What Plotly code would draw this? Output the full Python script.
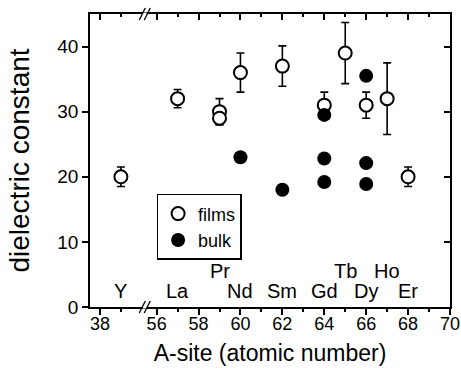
import plotly.graph_objects as go

# ---------------- data ----------------
film_z = [39, 57, 59, 59, 60, 62, 64, 65, 66, 67, 68]
film_k = [20, 32, 30, 29, 36, 37, 31, 39, 31, 32, 20]
film_err = [1.5, 1.4, 2.0, 1.0, 3.0, 3.1, 2.0, 4.7, 2.0, 5.5, 1.5]

bulk_z = [60, 62, 64, 64, 64, 66, 66, 66]
bulk_k = [23.0, 18.0, 29.5, 22.8, 19.2, 35.5, 22.1, 18.9]

elements = ["Y", "La", "Pr", "Nd", "Sm", "Gd", "Tb", "Dy", "Ho", "Er"]
element_z = [39, 57, 59, 60, 62, 64, 65, 66, 67, 68]
upper_row = ["Pr", "Tb", "Ho"]

major_ticks = [38, 56, 58, 60, 62, 64, 66, 68, 70]
minor_ticks = [39, 57, 59, 61, 63, 65, 67, 69]
y_ticks = [0, 10, 20, 30, 40]

# ------------- broken axis transform -------------
SHIFT = 15.295          # gap removed between 40 and 56
def t(z):
    return z if z < 50 else z - SHIFT

X_RANGE = [37.525, 70 - SHIFT + 1e-6]
Y_RANGE = [0, 45]
BREAK_X = 40.14

FONT = "Liberation Sans, Arial, sans-serif"

fig = go.Figure()

fig.add_trace(go.Scatter(
    x=[t(z) for z in film_z], y=film_k, mode="markers", name="films",
    marker=dict(symbol="circle", size=13, color="white",
                line=dict(color="black", width=2)),
    error_y=dict(type="data", array=film_err, visible=True,
                 color="black", thickness=1.6, width=4),
))
fig.add_trace(go.Scatter(
    x=[t(z) for z in bulk_z], y=bulk_k, mode="markers", name="bulk",
    marker=dict(symbol="circle", size=14, color="black",
                line=dict(color="black", width=0)),
))
# invisible helper trace to anchor the mirrored top/right axes
fig.add_trace(go.Scatter(x=[None], y=[None], xaxis="x2", yaxis="y2",
                         showlegend=False, hoverinfo="skip"))

# element labels
for el, z in zip(elements, element_z):
    fig.add_annotation(x=t(z), y=5.6 if el in upper_row else 2.4,
                       text=el, showarrow=False, xanchor="center",
                       yanchor="middle",
                       font=dict(size=20, color="black", family=FONT))

# axis-break marks (bottom and top)
PLOT_W = 461 - 90 - 11
px_x = (X_RANGE[1] - X_RANGE[0]) / PLOT_W
px_y = 1 / 293.0
shapes = []
for yb in (0.0, 1.0):
    shapes.append(dict(type="line", xref="x", yref="paper",
                       x0=BREAK_X - 2 * px_x, x1=BREAK_X + 2 * px_x,
                       y0=yb, y1=yb, line=dict(color="white", width=3),
                       layer="above"))
    for off in (-2.5, 2.5):
        xc = BREAK_X + off * px_x
        shapes.append(dict(type="line", xref="x", yref="paper",
                           x0=xc - 3 * px_x, x1=xc + 3 * px_x,
                           y0=yb - 6 * px_y, y1=yb + 6 * px_y,
                           line=dict(color="black", width=1.3),
                           layer="above"))

tickvals = [t(v) for v in major_ticks]
ticktext = [str(v) for v in major_ticks]
minor_vals = [t(v) for v in minor_ticks]

fig.update_layout(
    width=461, height=368,
    margin=dict(l=90, r=11, t=14, b=61, autoexpand=False),
    paper_bgcolor="white", plot_bgcolor="white",
    font=dict(family=FONT, color="black"),
    showlegend=True,
    legend=dict(x=0.185, y=0.386, xanchor="left", yanchor="top",
                bordercolor="black", borderwidth=1.5, bgcolor="white",
                font=dict(size=18, family=FONT), itemwidth=30,
                tracegroupgap=0),
    shapes=shapes,
    xaxis=dict(range=X_RANGE, showline=True, linecolor="black", linewidth=1.5,
               automargin=False, ticklabeloverflow="allow",
               ticklabelstandoff=-6,
               tickmode="array", tickvals=tickvals, ticktext=ticktext,
               ticks="outside", ticklen=6, tickwidth=1.5, tickcolor="black",
               minor=dict(tickmode="array", tickvals=minor_vals, ticks="outside",
                          ticklen=3, tickwidth=1.5, tickcolor="black"),
               showgrid=False, zeroline=False,
               tickfont=dict(size=18, family=FONT),
               title=dict(text="A-site (atomic number)", standoff=12,
                          font=dict(size=23, family=FONT))),
    xaxis2=dict(range=X_RANGE, overlaying="x", side="top", anchor="y",
                automargin=False,
                showline=True, linecolor="black", linewidth=1.5,
                tickmode="array", tickvals=tickvals, showticklabels=False,
                ticks="inside", ticklen=6, tickwidth=1.5, tickcolor="black",
                minor=dict(tickmode="array", tickvals=minor_vals, ticks="inside",
                           ticklen=3, tickwidth=1.5, tickcolor="black"),
                showgrid=False, zeroline=False),
    yaxis=dict(range=Y_RANGE, showline=True, linecolor="black", linewidth=1.5,
               automargin=False,
               tickmode="array", tickvals=y_ticks,
               ticks="outside", ticklen=6, tickwidth=1.5, tickcolor="black",
               showgrid=False, zeroline=False,
               tickfont=dict(size=19, family=FONT),
               title=dict(text="dielectric constant", standoff=20,
                          font=dict(size=28, family=FONT))),
    yaxis2=dict(range=Y_RANGE, overlaying="y", side="right", anchor="x",
                automargin=False,
                showline=True, linecolor="black", linewidth=1.5,
                tickmode="array", tickvals=y_ticks, showticklabels=False,
                ticks="inside", ticklen=6, tickwidth=1.5, tickcolor="black",
                showgrid=False, zeroline=False),
)

# remove the browser's default 8 px body margin so the figure fills the window
fig.write_html("out.html",
               config={"displayModeBar": False},
               post_script="document.body.style.margin='0';")
